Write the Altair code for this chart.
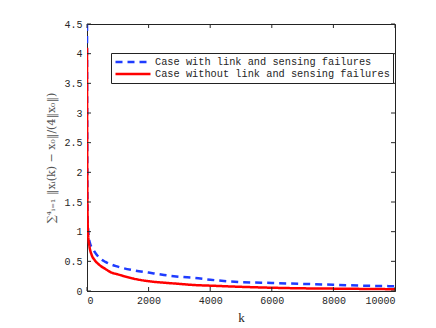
import altair as alt
import pandas as pd

# ---- data ----
k_with = [0, 10, 20, 50, 100, 200, 400, 600, 1000, 1500, 2000, 2500, 3000, 3500,
          4000, 5000, 6000, 7000, 8000, 9000, 10000]
v_with = [4.5, 2.0, 1.2, 0.95, 0.8, 0.7, 0.56, 0.49, 0.41, 0.35, 0.31, 0.27, 0.24, 0.22,
          0.19, 0.15, 0.135, 0.12, 0.105, 0.09, 0.08]

k_without = [0, 5, 10, 20, 40, 80, 150, 250, 400, 600, 800, 1000, 1500, 2000, 2500,
             3000, 3500, 4000, 5000, 6000, 7000, 8000, 9000, 10000]
v_without = [4.1, 2.5, 1.7, 1.2, 0.92, 0.75, 0.61, 0.52, 0.44, 0.37, 0.31, 0.28, 0.21,
             0.165, 0.14, 0.12, 0.10, 0.09, 0.07, 0.055, 0.045, 0.04, 0.035, 0.03]

series_names = ["Case with link and sensing failures",
                "Case without link and sensing failures"]
series_colors = ["#1f3cff", "#ff0000"]
series_dash = [[7, 5], [1, 0]]

x_ticks = [0, 2000, 4000, 6000, 8000, 10000]
y_ticks = [0, 0.5, 1, 1.5, 2, 2.5, 3, 3.5, 4, 4.5]

y_title = "\u2211\u2074\u1d62\u208c\u2081 \u2016x\u1d62(k) \u2212 x\u2080\u2016/(4\u2016x\u2080\u2016)"

W, H = 308, 267
FONT = "Liberation Mono"
TXT = "#262626"

df = pd.concat([
    pd.DataFrame({"k": k_with, "v": v_with, "series": series_names[0]}),
    pd.DataFrame({"k": k_without, "v": v_without, "series": series_names[1]}),
])
xt = pd.DataFrame({"t": x_ticks})
yt = pd.DataFrame({"t": y_ticks})

xscale = alt.Scale(domain=[0, 10000], nice=False)
yscale = alt.Scale(domain=[0, 4.5], nice=False)

xaxis = alt.Axis(values=x_ticks, format="d", title="k", grid=False, ticks=False,
                 labelFont=FONT, labelFontSize=10, labelColor=TXT,
                 labelOverlap=False,
                 titleFont="Liberation Serif", titleFontSize=13,
                 titleFontWeight="normal", titleColor=TXT,
                 titlePadding=6, labelPadding=4, domainColor=TXT)
yaxis = alt.Axis(values=y_ticks, format="~g", title=y_title, grid=False, ticks=False,
                 labelFont=FONT, labelFontSize=10, labelColor=TXT,
                 labelOverlap=False,
                 titleFont="DejaVu Serif", titleFontSize=11,
                 titleFontWeight="normal", titleColor="#555555",
                 titlePadding=7, labelPadding=5, domainColor=TXT)

lines = alt.Chart(df).mark_line(strokeWidth=2.5, interpolate="monotone", clip=True).encode(
    x=alt.X("k:Q", scale=xscale, axis=xaxis, title="k"),
    y=alt.Y("v:Q", scale=yscale, axis=yaxis, title=y_title),
    color=alt.Color("series:N", scale=alt.Scale(domain=series_names, range=series_colors),
                    legend=alt.Legend(title=None, orient="none", legendX=24, legendY=29,
                                      symbolType="stroke", symbolSize=1225,
                                      symbolStrokeWidth=2.5, clipHeight=12,
                                      labelFont=FONT, labelFontSize=10.3, labelColor=TXT,
                                      labelOffset=3, rowPadding=0,
                                      strokeColor="#222222", fillColor="white",
                                      padding=3, cornerRadius=0, labelLimit=400)),
    strokeDash=alt.StrokeDash("series:N",
                              scale=alt.Scale(domain=series_names, range=series_dash),
                              legend=None),
)

xtick_b = alt.Chart(xt).mark_rule(color=TXT).encode(
    x=alt.X("t:Q", scale=xscale, axis=xaxis, title="k"), y=alt.value(H - 4), y2=alt.value(H))
xtick_t = alt.Chart(xt).mark_rule(color=TXT).encode(
    x=alt.X("t:Q", scale=xscale, axis=xaxis, title="k"), y=alt.value(0), y2=alt.value(4))
ytick_l = alt.Chart(yt).mark_rule(color=TXT).encode(
    y=alt.Y("t:Q", scale=yscale, axis=yaxis, title=y_title), x=alt.value(0), x2=alt.value(4))
ytick_r = alt.Chart(yt).mark_rule(color=TXT).encode(
    y=alt.Y("t:Q", scale=yscale, axis=yaxis, title=y_title), x=alt.value(W - 4), x2=alt.value(W))

chart = alt.layer(lines, xtick_b, xtick_t, ytick_l, ytick_r).properties(
    width=W, height=H,
    padding={"left": 79, "top": 16, "right": 33, "bottom": 33},
    autosize=alt.AutoSizeParams(type="none"),
    background="white",
).configure_view(stroke="#222222", strokeWidth=1)

chart.save("out.html", embed_options={"renderer": "svg", "actions": False})
